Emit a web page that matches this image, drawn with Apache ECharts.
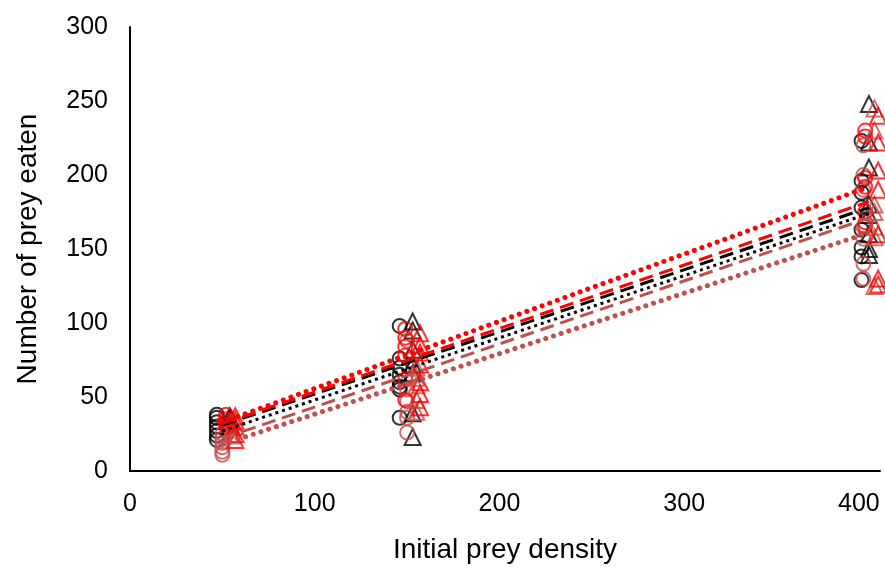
<!DOCTYPE html>
<html><head><meta charset="utf-8">
<script src="https://cdn.jsdelivr.net/npm/echarts@6/dist/echarts.min.js"></script>
<style>html,body{margin:0;padding:0;background:#fff}#c{width:885px;height:567px}</style>
</head><body><div id="c"></div>
<script>
// Scatter data: [initial prey density (jittered), number eaten]
const blackCircles = [
  [47,38],[47,36],[47,33],[47,30],[47,27],[47,24],[47,21],
  [146,98],[146,76],[146,70],[146,65],[146,60],[146,57],[146,55],[146,36],
  [396,223],[396,196],[396,188],[396,178],[396,163],[396,151],[396,145],[396,129]
];
const blackTriangles = [
  [54,37],[54,35],[54,32],[54,30],
  [153,101],[153,95],[153,82],[153,72],[153,66],[153,39],[153,23],
  [400,248],[400,222],[400,205],[400,180],[400,173],[400,160],[400,150],[400,146]
];
const redCircles = [
  [52,38],[52,35],[52,33],[52,31],
  [149,96],[149,90],[149,84],[149,78],[149,62],[149,48],
  [398,230],[398,226],[398,198],[398,192],[398,175],[398,168],[398,165]
];
const indianCircles = [
  [50,25],[50,22],[50,19],[50,16],[50,13],[50,11],
  [150,88],[150,55],[150,47],[150,40],[150,36],[150,26],
  [397,220],[397,200],[397,190],[397,165],[397,157],[397,140],[397,130]
];
const redTriangles = [
  [57,37],[57,34],[57,30],[57,25],[57,21],
  [157,93],[157,85],[157,80],[157,72],[157,60],[157,52],[157,43],
  [405,240],[405,222],[405,203],[405,190],[405,160],[405,130],[405,126]
];
const indianTriangles = [
  [55,33],[55,28],[55,24],
  [155,70],[155,63],[155,58],[155,48],[155,40],
  [403,245],[403,230],[403,180],[403,175],[403,165],[403,158],[403,125]
];
// Trend lines (endpoints at x = 50 and 400)
const trendX = [50, 400];
const redDotted = [33, 192];
const redDashed = [32, 182];
const blackDashed = [31, 178];
const blackDotted = [27, 174];
const indianDashed = [22, 171];
const indianDotted = [18, 161];
const xTicks = [0, 100, 200, 300, 400];
const yTicks = [0, 50, 100, 150, 200, 250, 300];

const RED = '#FF0000', IND = '#C0504D', BLK = '#000000';
function scat(data, sym, col){
  return {type:'scatter', data:data, symbol:sym, symbolSize: sym==='circle'?14:16,
    itemStyle:{color:'rgba(0,0,0,0)', borderColor:col, borderWidth:2}, z:2};
}
function trend(ys, col, type, w, cap){
  return {type:'line', data: trendX.map((x,i)=>[x, ys[i]]), symbol:'none', z:3,
    lineStyle:{color:col, width:w, type:type, cap:cap||'butt'}};
}
const lastX = xTicks[xTicks.length-1];
const chart = echarts.init(document.getElementById('c'));
chart.setOption({
  animation:false,
  grid:{left:130, right:5, top:27, bottom:96, containLabel:false, outerBoundsMode:'none'},
  xAxis:{type:'value', min:xTicks[0], max:406, interval:100,
    name:'Initial prey density', nameLocation:'middle', nameGap:65,
    nameTextStyle:{fontFamily:'Liberation Sans', fontSize:28, color:'#000'},
    axisLine:{lineStyle:{color:'#000', width:2}}, axisTick:{show:false}, splitLine:{show:false},
    axisLabel:{fontFamily:'Liberation Sans', fontSize:25, color:'#000', margin:21, showMaxLabel:false,
      formatter:v => v === lastX ? '{r|' + v + '}' : (xTicks.indexOf(v) >= 0 ? String(v) : ''),
      rich:{r:{fontFamily:'Liberation Sans', fontSize:25, color:'#000', padding:[0,20,0,0]}}}},
  yAxis:{type:'value', min:yTicks[0], max:yTicks[yTicks.length-1], interval:50,
    name:'Number of prey eaten', nameLocation:'middle', nameGap:88,
    nameTextStyle:{fontFamily:'Liberation Sans', fontSize:28, color:'#000'},
    axisLine:{show:true, lineStyle:{color:'#000', width:2}}, axisTick:{show:false}, splitLine:{show:false},
    axisLabel:{fontFamily:'Liberation Sans', fontSize:25, color:'#000', margin:22}},
  series:[
    scat(blackCircles,'circle',BLK),
    scat(blackTriangles,'triangle',BLK),
    scat(indianCircles,'circle',IND),
    scat(redCircles,'circle',RED),
    scat(indianTriangles,'triangle',IND),
    scat(redTriangles,'triangle',RED),
    trend(indianDotted, IND, [0.1,8], 5, 'round'),
    trend(indianDashed, IND, [14,7], 3),
    trend(blackDotted, BLK, [3,4], 3),
    trend(blackDashed, BLK, [14,7], 3),
    trend(redDashed, RED, [14,7], 3),
    trend(redDotted, RED, [0.1,8], 5, 'round')
  ]
});
</script></body></html>
